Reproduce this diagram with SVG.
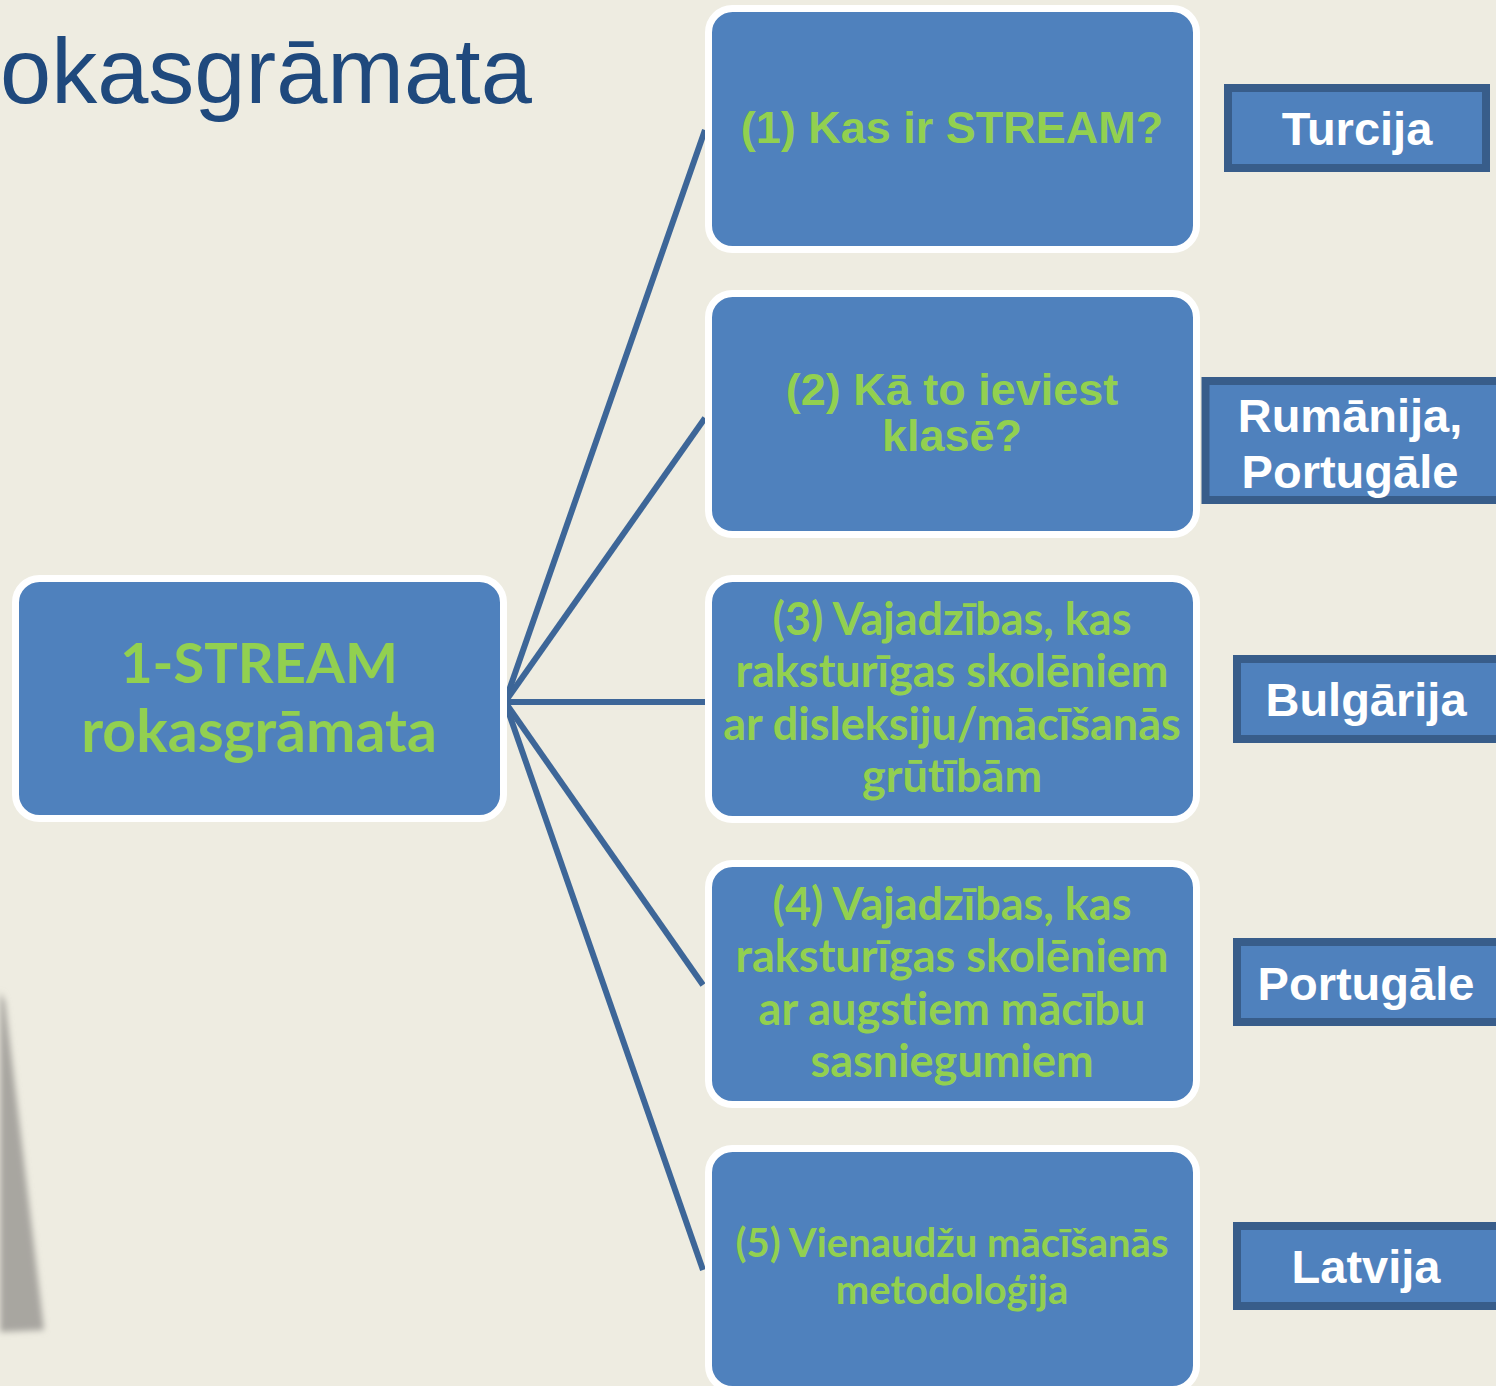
<svg xmlns="http://www.w3.org/2000/svg" width="1496" height="1386" viewBox="0 0 1496 1386">
<defs>
<filter id="blur" x="-50%" y="-10%" width="200%" height="120%"><feGaussianBlur stdDeviation="3"/></filter>
<style>
.box{fill:#4F81BD;stroke:#FFFFFF;stroke-width:7}
.tag{fill:#4F81BD;stroke:#385D8A;stroke-width:8}
.arial{font-family:"Liberation Sans",Arial,sans-serif;font-weight:bold;fill:#92D050;text-anchor:middle}
.cal{font-family:Lato,"Open Sans",sans-serif;font-weight:bold;fill:#92D050;text-anchor:middle;font-variant-ligatures:none}
.tagt{font-family:"Liberation Sans",Arial,sans-serif;font-weight:bold;fill:#FFFFFF;text-anchor:middle;font-size:47px}
.conn{stroke:#3D6698;stroke-width:6;fill:none;stroke-linecap:butt}
</style>
</defs>
<rect width="1496" height="1386" fill="#EEECE1"/>
<polygon points="0,992 5,1002 44,1330 0,1332" fill="#A8A6A0" filter="url(#blur)"/>
<text x="0" y="103" font-family="'Liberation Sans',Arial,sans-serif" font-size="92" fill="#1F497D">okasgrāmata</text>
<g id="connectors">
<line class="conn" x1="505" y1="702" x2="705" y2="130"/>
<line class="conn" x1="505" y1="702" x2="705" y2="418"/>
<line class="conn" x1="505" y1="702" x2="705" y2="702"/>
<line class="conn" x1="505" y1="702" x2="703" y2="985"/>
<line class="conn" x1="505" y1="702" x2="703" y2="1270"/>
</g>
<g id="root">
<rect class="box" x="15.5" y="578.5" width="488" height="240" rx="24"/>
<text class="cal" x="259" y="683" font-size="56">1-STREAM</text>
<text class="cal" x="259" y="752" font-size="59">rokasgrāmata</text>
</g>
<g id="n1">
<rect class="box" x="708.5" y="8.5" width="488" height="241" rx="24"/>
<text class="arial" x="952" y="143" font-size="45">(1) Kas ir STREAM?</text>
</g>
<g id="n2">
<rect class="box" x="708.5" y="293.5" width="488" height="241" rx="24"/>
<text class="arial" x="952" y="405" font-size="45">(2) Kā to ieviest</text>
<text class="arial" x="952" y="451" font-size="45">klasē?</text>
</g>
<g id="n3">
<rect class="box" x="708.5" y="578.5" width="488" height="241" rx="24"/>
<text class="cal" x="952" y="635" font-size="45">(3) Vajadzības, kas</text>
<text class="cal" x="952" y="687" font-size="45">raksturīgas skolēniem</text>
<text class="cal" x="952" y="740" font-size="45">ar disleksiju/mācīšanās</text>
<text class="cal" x="952" y="792" font-size="45">grūtībām</text>
</g>
<g id="n4">
<rect class="box" x="708.5" y="863.5" width="488" height="241" rx="24"/>
<text class="cal" x="952" y="920" font-size="45">(4) Vajadzības, kas</text>
<text class="cal" x="952" y="972" font-size="45">raksturīgas skolēniem</text>
<text class="cal" x="952" y="1025" font-size="45">ar augstiem mācību</text>
<text class="cal" x="952" y="1077" font-size="45">sasniegumiem</text>
</g>
<g id="n5">
<rect class="box" x="708.5" y="1148.5" width="488" height="241" rx="24"/>
<text class="cal" x="952" y="1257" font-size="40">(5) Vienaudžu mācīšanās</text>
<text class="cal" x="952" y="1304" font-size="40">metodoloģija</text>
</g>
<g id="t1">
<rect class="tag" x="1228" y="88" width="258" height="80"/>
<text class="tagt" x="1357" y="145">Turcija</text>
</g>
<g id="t2">
<rect class="tag" x="1205.5" y="381" width="300" height="119"/>
<text class="tagt" x="1350" y="432">Rumānija,</text>
<text class="tagt" x="1350" y="488">Portugāle</text>
</g>
<g id="t3">
<rect class="tag" x="1237" y="659" width="270" height="80"/>
<text class="tagt" x="1366" y="716">Bulgārija</text>
</g>
<g id="t4">
<rect class="tag" x="1237" y="942" width="270" height="80"/>
<text class="tagt" x="1366" y="1000">Portugāle</text>
</g>
<g id="t5">
<rect class="tag" x="1237" y="1226" width="270" height="80"/>
<text class="tagt" x="1366" y="1283">Latvija</text>
</g>
</svg>
